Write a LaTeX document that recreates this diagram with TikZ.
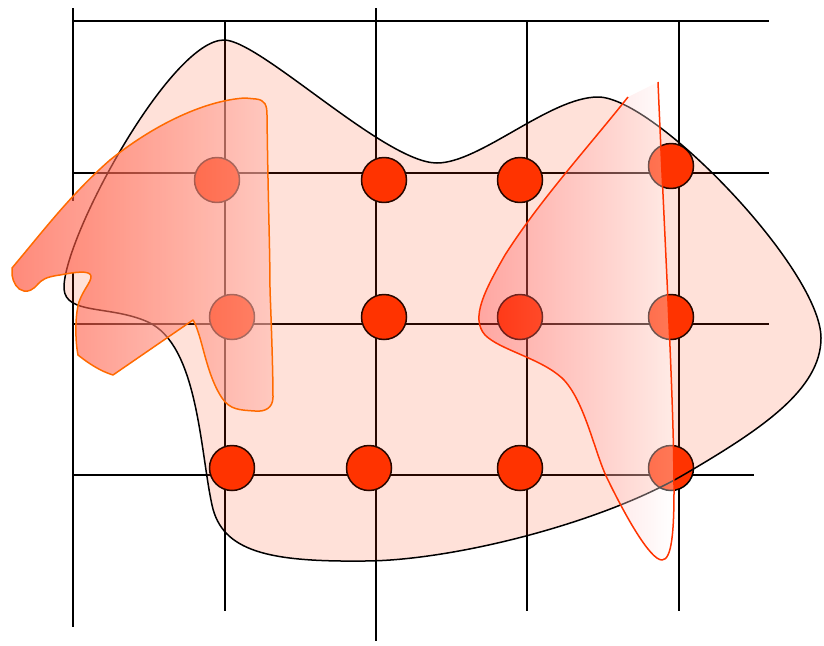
\documentclass[tikz,border=0pt]{standalone}
\definecolor{dotred}{RGB}{255,51,0}
\definecolor{orline}{RGB}{255,106,0}
\definecolor{orleft}{RGB}{255,60,33}
\definecolor{orright}{RGB}{255,185,175}
\definecolor{rbleft}{RGB}{255,45,45}
\definecolor{rbline}{RGB}{255,51,0}
\begin{document}
\begin{tikzpicture}[x=1pt,y=-1pt,line join=round,
  gridline/.style={line width=1.5pt,black},
  dot/.style={circle,fill=dotred,draw=black,line width=1.5pt,minimum size=45pt,inner sep=0pt},
  bigblob/.style={line width=1.5pt,draw=black,fill=dotred,fill opacity=0.15},
  orfill/.style={left color=orleft,right color=orright,fill opacity=0.6},
  orstroke/.style={draw=orline,line width=1.5pt},
  rbfill/.style={left color=rbleft,right color=white,fill opacity=0.34},
  rbstroke/.style={draw=rbline,line width=1.5pt}]
\useasboundingbox (0,0) rectangle (824,645);

% grid
\coordinate (v1a) at (73,8);   \coordinate (v1b) at (73,201);
\coordinate (v1c) at (73,273); \coordinate (v1d) at (73,627);
\coordinate (v2a) at (225,21); \coordinate (v2b) at (225,611);
\coordinate (v3a) at (376,8);  \coordinate (v3b) at (376,641);
\coordinate (v4a) at (527,21); \coordinate (v4b) at (527,611);
\coordinate (v5a) at (679,21); \coordinate (v5b) at (679,611);
\coordinate (h1a) at (73,21);  \coordinate (h1b) at (769,21);
\coordinate (h2a) at (73,173); \coordinate (h2b) at (769,173);
\coordinate (h3a) at (73,324); \coordinate (h3b) at (769,324);
\coordinate (h4a) at (73,475); \coordinate (h4b) at (754,475);
\draw[gridline] (v1a) -- (v1b) (v1c) -- (v1d) (v2a) -- (v2b) (v3a) -- (v3b)
  (v4a) -- (v4b) (v5a) -- (v5b);
\draw[gridline] (h1a) -- (h1b) (h2a) -- (h2b) (h3a) -- (h3b) (h4a) -- (h4b);

% dots
\node[dot] (d11) at (217,180) {};
\node[dot] (d12) at (384,180) {};
\node[dot] (d13) at (520,180) {};
\node[dot] (d14) at (671,166) {};
\node[dot] (d21) at (232,317) {};
\node[dot] (d22) at (384,317) {};
\node[dot] (d23) at (520,317) {};
\node[dot] (d24) at (671,317) {};
\node[dot] (d31) at (232,468) {};
\node[dot] (d32) at (369,468) {};
\node[dot] (d33) at (520,468) {};
\node[dot] (d34) at (671,468) {};

% big blob
\path[bigblob] (224,40)
 .. controls (260,40) and (385,163) .. (437,163)
 .. controls (480,163) and (550,97) .. (598,97)
 .. controls (655,97) and (821,270) .. (821,338)
 .. controls (821,390) and (760,430) .. (685,474)
 .. controls (600,524) and (450,561) .. (364,561)
 .. controls (270,562) and (222,552) .. (212,505)
 .. controls (200,450) and (198,345) .. (148,322)
 .. controls (110,305) and (66,315) .. (64,289)
 .. controls (62,240) and (170,40) .. (224,40) -- cycle;

% orange blob
\def\orpath{(12,268) .. controls (40,235) and (70,195) .. (110,160)
 .. controls (160,120) and (210,100) .. (245,98)
 -- (256,99) .. controls (265,100) and (267,105) .. (267,115)
 .. controls (268,200) and (270,250) .. (270,290)
 .. controls (272,340) and (273,380) .. (273,397)
 .. controls (273,408) and (265,412) .. (255,411)
 .. controls (240,410) and (230,410) .. (222,398)
 .. controls (210,380) and (205,355) .. (200,338)
 .. controls (197,328) and (195,323) .. (193,320)
 -- (113,375)
 .. controls (100,371) and (88,363) .. (78,355)
 .. controls (75,340) and (75,315) .. (79,302)
 .. controls (83,290) and (92,281) .. (91,276)
 .. controls (90,270) and (75,272) .. (60,275)
 .. controls (45,277) and (42,280) .. (38,284)
 .. controls (33,290) and (28,292) .. (24,291)
 .. controls (17,290) and (13,282) .. (12,275) -- cycle}
\path[orfill] \orpath;
\path[orstroke] \orpath;

% right blob
\def\rbpath{(628,97) .. controls (590,145) and (540,200) .. (505,255)
 .. controls (485,290) and (470,318) .. (485,335)
 .. controls (500,350) and (540,358) .. (562,378)
 .. controls (585,400) and (595,455) .. (608,480)
 .. controls (625,515) and (650,560) .. (662,560)
 .. controls (672,560) and (674,530) .. (674,490)
 .. controls (674,400) and (665,250) .. (658,82)}
\path[rbfill] \rbpath -- cycle;
\path[rbstroke] \rbpath;
\end{tikzpicture}
\end{document}
